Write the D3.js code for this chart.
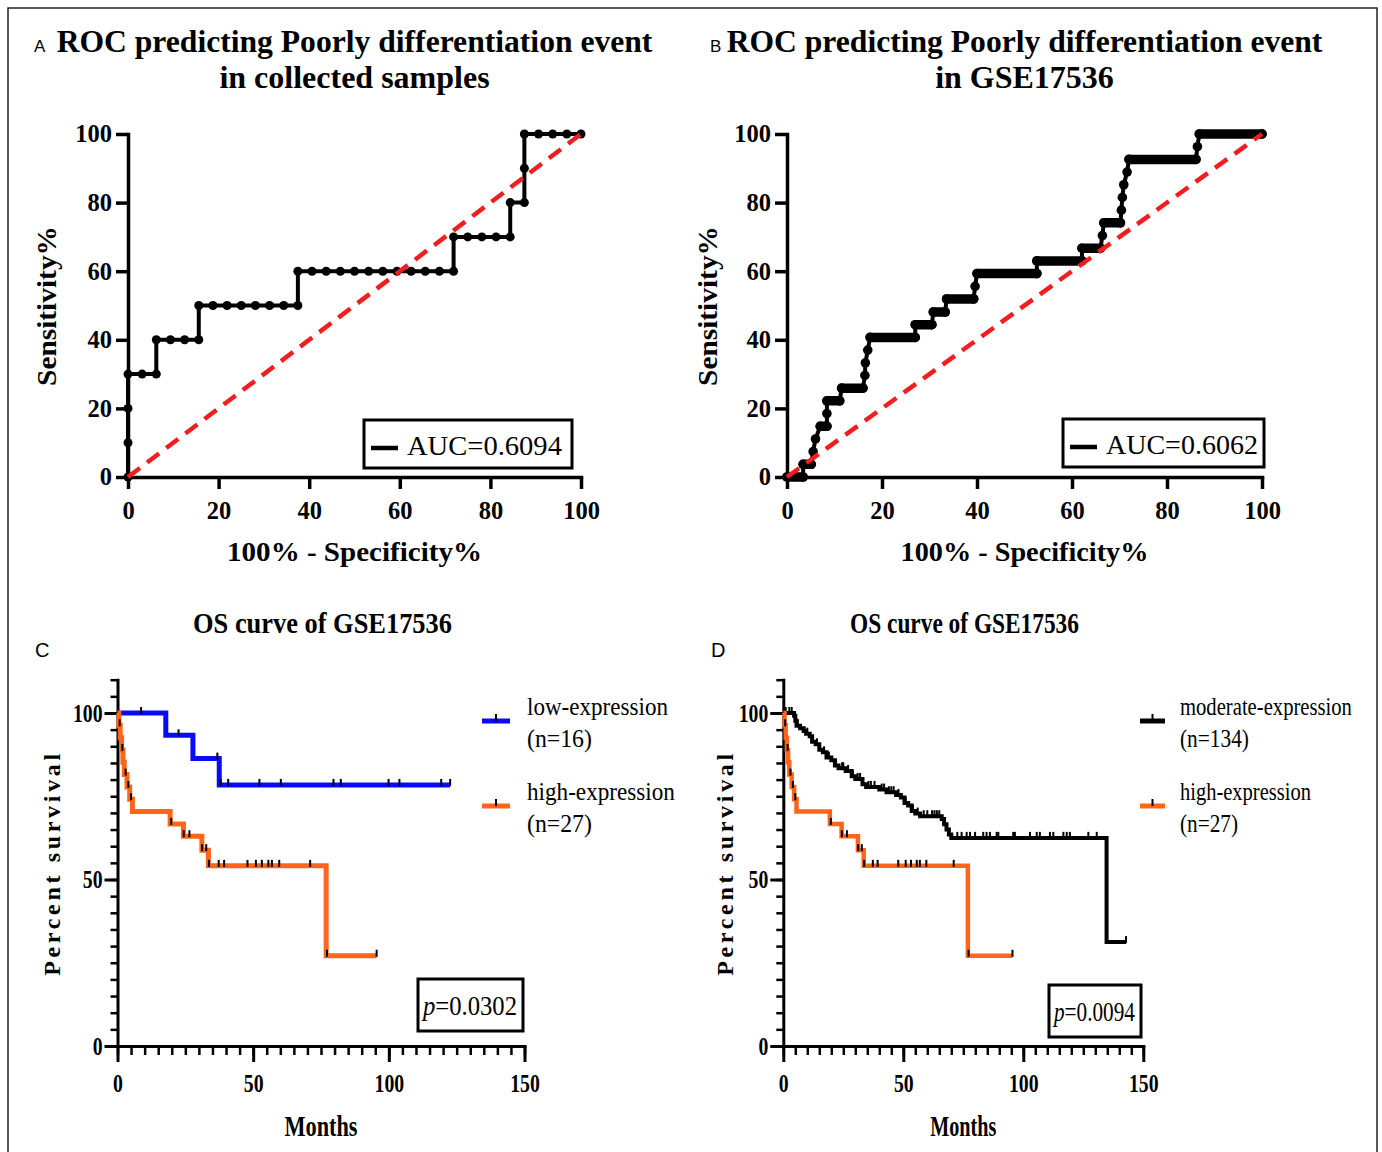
<!DOCTYPE html>
<html>
<head>
<meta charset="utf-8">
<script src="https://cdn.jsdelivr.net/npm/d3@7"></script>
<style>
body { margin: 0; background: #fff; }
svg { display: block; }
</style>
</head>
<body>
<svg width="1382" height="1152"></svg>
<script>
// ---- data ----
// ROC A (collected samples): 100% - specificity, sensitivity
var rocA_fpr = [0,0,0,0,3.125,6.25,6.25,9.375,12.5,15.625,15.625,18.75,21.875,25,28.125,31.25,34.375,37.5,
                37.5,40.625,43.75,46.875,50,53.125,56.25,59.375,62.5,65.625,68.75,71.875,
                71.875,75,78.125,81.25,84.375,84.375,87.5,87.5,87.5,90.625,93.75,96.875,100];
var rocA_tpr = [0,10,20,30,30,30,40,40,40,40,50,50,50,50,50,50,50,50,
                60,60,60,60,60,60,60,60,60,60,60,60,
                70,70,70,70,70,80,80,90,100,100,100,100,100];
// ROC B (GSE17536)
var rocB_fpr = [0,3.4,3.4,5.1,5.5,6.0,7.0,8.4,8.4,8.4,11.1,11.5,16.0,16.4,16.5,17.0,17.5,27.0,27.0,30.5,30.8,
                33.3,33.6,39.3,39.6,40.0,52.6,52.6,62.1,62.1,66.0,66.4,66.7,70.2,70.4,70.6,70.9,71.6,72.0,86.1,86.4,86.8,100];
var rocB_tpr = [0,0,3.7,3.7,7.4,11.1,14.8,14.8,18.5,22.2,22.2,25.9,25.9,29.6,33.3,37.0,40.7,40.7,44.4,44.4,48.1,
                48.1,51.9,51.9,55.6,59.3,59.3,63.0,63.0,66.7,66.7,70.4,74.1,74.1,77.8,81.5,85.2,88.9,92.6,92.6,96.3,100,100];
var rocTicks = [0,20,40,60,80,100];
var aucA = "AUC=0.6094", aucB = "AUC=0.6062";

// Kaplan-Meier, months / percent survival
var low_time = [0,17.8,27.8,37.5,122.6];
var low_surv = [100,93.3,86.3,78.4,78.4];
var low_cens = [8.7,22.5,36.8,38.0,40.8,52.3,60.2,79.6,82.3,99.9,103.9,119.3,122.6];

var high_time = [0,0.5,1.0,1.5,2.0,2.5,3.5,4.5,5.5,19.4,24.3,31.1,33.5,76.9,95.5];
var high_surv = [100,96.3,92.6,88.9,85.2,81.5,77.8,74.1,70.4,66.7,63.0,58.8,54.1,27.1,27.1];
var high_cens = [0.8,1.8,3.0,4.0,5.0,19.8,24.4,26.5,31.2,32.7,33.7,37.3,39.3,47.9,51.0,53.2,55.6,56.9,59.6,71.0,77.2,95.5];

var mod_time = [0,4.5,5.0,5.5,7,8.5,9.5,11,12,13.5,15,16.5,18,20,21.5,23,26,28.5,30,33,34.5,40,43,47,49,
                50.5,52,53.5,55,57,66,67,68,69,70,134.7,142.8];
var mod_surv = [100,99.2,97.7,96.2,95.4,94.6,93.8,93.0,91.4,90.6,89.0,88.2,86.6,85.8,84.2,83.4,82.6,81.0,80.2,78.6,77.8,77.0,76.2,75.4,74.6,
                73.0,72.2,70.6,69.8,69.0,68.2,66.6,65.0,63.5,62.5,31.2,31.2];
var mod_cens = [1.0,2.5,3.5,6,10,14,17,19,22,24.5,25,27,29,31,32,35.5,36.5,38,41,42,44,45,46,48,51,54,56,58.5,60,62,63,64,65,
                72.5,74.3,76.4,77.8,79.9,83.3,84.7,86.1,88.9,89.6,95.8,96.5,102.8,105.6,106.9,111.1,112.5,116.7,118.1,119.4,127.1,130.6,142.8];

var kmTicks = [0,50,100,150];
var kmYTicks = [0,50,100];
var pC = "0.0302", pD = "0.0094";

// ---- drawing ----
var svg = d3.select("svg");
var serif = "'Liberation Serif','Times New Roman',Times,serif";
var sans = "'Liberation Sans',Arial,Helvetica,sans-serif";
var blue = "#0a0afa", orange = "#fd6619", red = "#f01e1e";

// frame round the whole figure
svg.append("rect").attr("x", 8).attr("y", 8).attr("width", 1369).attr("height", 1170)
  .attr("fill", "none").attr("stroke", "#222").attr("stroke-width", 1.5);

// text helper: optional squeeze to a target width
function putText(parent, str, x, y, o) {
  var t = parent.append("text").text(str)
    .attr("font-family", o.family || serif)
    .attr("font-size", o.size)
    .attr("font-weight", o.weight || "normal")
    .attr("font-style", o.italic ? "italic" : "normal")
    .attr("text-anchor", o.anchor || "start")
    .attr("fill", "#000");
  var k = 1;
  var w = t.node().getComputedTextLength();
  if (o.spacing && o.width) {
    t.attr("letter-spacing", (o.width - w) / (str.length - 1));
  } else if (o.width) {
    k = o.width / w;
  }
  t.attr("transform", "translate(" + x + "," + y + ")" + (o.rotate ? " rotate(" + o.rotate + ")" : "") + " scale(" + k + ",1)");
  return t;
}

function styleAxis(ax, sw, fs, k) {
  ax.select(".domain").attr("stroke-width", sw).attr("stroke-linecap", "square");
  ax.selectAll(".tick line").attr("stroke-width", sw);
  ax.selectAll(".tick text")
    .attr("font-family", serif).attr("font-size", fs).attr("font-weight", "bold").attr("fill", "#000")
    .each(function() {
      if (k === 1) return;
      var t = d3.select(this), x0 = +t.attr("x") || 0;
      t.attr("x", x0 / k).attr("transform", "scale(" + k + ",1)");
    });
}

function rocPanel(o) {
  var x = d3.scaleLinear().domain([0, 100]).range(o.xr);
  var y = d3.scaleLinear().domain([0, 100]).range([477, 134]);
  var g = svg.append("g");
  var pts = o.fpr.map(function(f, i) { return [f, o.tpr[i]]; });

  var gx = g.append("g").attr("transform", "translate(0," + y(0) + ")")
    .call(d3.axisBottom(x).tickValues(rocTicks).tickSize(12).tickSizeOuter(0).tickPadding(13));
  styleAxis(gx, 3.5, 24.5, 1);
  var gy = g.append("g").attr("transform", "translate(" + x(0) + ",0)")
    .call(d3.axisLeft(y).tickValues(rocTicks).tickSize(12).tickSizeOuter(0).tickPadding(4));
  styleAxis(gy, 3.5, 24.5, 1);

  var line = d3.line().x(function(d) { return x(d[0]); }).y(function(d) { return y(d[1]); });
  g.append("path").datum(pts).attr("d", line)
    .attr("fill", "none").attr("stroke", "#000").attr("stroke-width", 4).attr("stroke-linejoin", "round");

  // many tied points on the flat runs merge into a thick bar
  if (o.dense) {
    for (var i = 0; i < pts.length - 1; i++) {
      if (pts[i][1] === pts[i + 1][1] && pts[i][0] !== pts[i + 1][0]) {
        g.append("line").attr("x1", x(pts[i][0])).attr("x2", x(pts[i + 1][0]))
          .attr("y1", y(pts[i][1])).attr("y2", y(pts[i][1]))
          .attr("stroke", "#000").attr("stroke-width", 9.5).attr("stroke-linecap", "round");
      }
    }
  }
  g.selectAll("circle.pt").data(pts).join("circle").attr("class", "pt")
    .attr("cx", function(d) { return x(d[0]); }).attr("cy", function(d) { return y(d[1]); })
    .attr("r", o.dense ? 4.8 : 4.5).attr("fill", "#000");

  // chance line
  g.append("line").attr("x1", x(0)).attr("y1", y(0)).attr("x2", x(100)).attr("y2", y(100))
    .attr("stroke", red).attr("stroke-width", 4.5).attr("stroke-dasharray", "15,9");

  // AUC legend box
  var lb = o.legend;
  g.append("rect").attr("x", lb[0]).attr("y", lb[1]).attr("width", lb[2]).attr("height", lb[3])
    .attr("fill", "#fff").attr("stroke", "#000").attr("stroke-width", 3);
  g.append("line").attr("x1", lb[0] + 7).attr("x2", lb[0] + 34).attr("y1", lb[1] + 28).attr("y2", lb[1] + 28)
    .attr("stroke", "#000").attr("stroke-width", 4.5);
  putText(g, o.auc, lb[0] + 43, lb[1] + 35, { size: 27, width: o.aucW });

  // titles and axis labels
  var cx = (o.xr[0] + o.xr[1]) / 2;
  putText(g, o.letter, o.letterX, 52, { family: sans, size: 17 });
  putText(g, "ROC predicting Poorly differentiation event", cx, 52, { size: 32, weight: "bold", anchor: "middle", width: 596 });
  putText(g, o.title2, cx, 88, { size: 32, weight: "bold", anchor: "middle" });
  putText(g, "Sensitivity%", o.ylabX, 306, { size: 27, weight: "bold", anchor: "middle", rotate: -90, width: 160 });
  putText(g, "100% - Specificity%", cx, 561, { size: 27, weight: "bold", anchor: "middle", width: o.xlabW });
}

function survAt(time, surv, t) {
  var i = d3.bisectRight(time, t) - 1;
  return surv[Math.max(0, i)];
}

function kmPanel(o) {
  var x = d3.scaleLinear().domain([0, 150]).range(o.xr);
  var y = d3.scaleLinear().domain([0, 110]).range([1046, 679.7]);
  var g = svg.append("g");

  // minor ticks every 5
  g.append("g").attr("transform", "translate(0," + y(0) + ")")
    .call(d3.axisBottom(x).tickValues(d3.range(0, 151, 5)).tickSize(9).tickFormat(""))
    .call(function(a) { a.select(".domain").remove(); a.selectAll("line").attr("stroke-width", 2.5); });
  g.append("g").attr("transform", "translate(" + x(0) + ",0)")
    .call(d3.axisLeft(y).tickValues(d3.range(0, 111, 5)).tickSize(7).tickFormat(""))
    .call(function(a) { a.select(".domain").remove(); a.selectAll("line").attr("stroke-width", 2.5); });

  var gx = g.append("g").attr("transform", "translate(0," + y(0) + ")")
    .call(d3.axisBottom(x).tickValues(kmTicks).tickSize(16).tickSizeOuter(0).tickPadding(12));
  styleAxis(gx, 3, 26, 0.76);
  var gy = g.append("g").attr("transform", "translate(" + x(0) + ",0)")
    .call(d3.axisLeft(y).tickValues(kmYTicks).tickSize(13).tickSizeOuter(0).tickPadding(2));
  styleAxis(gy, 3, 26, 0.76);

  var step = d3.line().curve(d3.curveStepAfter)
    .x(function(d) { return x(d[0]); }).y(function(d) { return y(d[1]); });

  o.series.forEach(function(s) {
    var pts = s.time.map(function(t, i) { return [t, s.surv[i]]; });
    g.append("path").datum(pts).attr("d", step)
      .attr("fill", "none").attr("stroke", s.color).attr("stroke-width", s.sw);
    g.selectAll(null).data(s.cens).join("line")
      .attr("x1", function(d) { return x(d); }).attr("x2", function(d) { return x(d); })
      .attr("y1", function(d) { return y(survAt(s.time, s.surv, d)) - 6; })
      .attr("y2", function(d) { return y(survAt(s.time, s.surv, d)) + 1; })
      .attr("stroke", "#000").attr("stroke-width", 2);

    // legend entry
    var lx = o.legX, ly = s.legY;
    g.append("line").attr("x1", lx).attr("x2", lx + o.legLen).attr("y1", ly).attr("y2", ly)
      .attr("stroke", s.color).attr("stroke-width", 5);
    g.append("line").attr("x1", lx + o.legLen / 2).attr("x2", lx + o.legLen / 2).attr("y1", ly - 7).attr("y2", ly)
      .attr("stroke", "#000").attr("stroke-width", 2);
    putText(g, s.name, o.legTextX, ly - 6, { size: 26, width: s.nameW });
    putText(g, s.n, o.legTextX, ly + 26, { size: 26, width: s.nW });
  });

  // p value box
  var pb = o.pbox;
  g.append("rect").attr("x", pb[0]).attr("y", pb[1]).attr("width", pb[2]).attr("height", pb[3])
    .attr("fill", "#fff").attr("stroke", "#000").attr("stroke-width", 3);
  var pt = g.append("text").attr("font-family", serif).attr("font-size", 28).attr("fill", "#000");
  pt.append("tspan").attr("font-style", "italic").text("p");
  pt.append("tspan").text("=" + o.p);
  var pk = (pb[2] - 11) / pt.node().getComputedTextLength();
  pt.attr("transform", "translate(" + (pb[0] + 5) + "," + (pb[1] + 36) + ") scale(" + pk + ",1)");

  var cx = (o.xr[0] + o.xr[1]) / 2;
  putText(g, o.letter, o.letterX, 657, { family: sans, size: 20 });
  putText(g, "OS curve of GSE17536", o.titleX, 633, { size: 30, weight: "bold", anchor: "middle", width: o.titleW });
  putText(g, "Percent survival", o.ylabX, 863, { size: 24, weight: "bold", anchor: "middle", rotate: -90, width: 222, spacing: true });
  putText(g, "Months", cx, 1136, { size: 29, weight: "bold", anchor: "middle", width: o.monthsW });
}

rocPanel({ xr: [128, 581], fpr: rocA_fpr, tpr: rocA_tpr, dense: false, legend: [364, 420, 208, 48],
  auc: aucA, aucW: 155, letter: "A", letterX: 34, title2: "in collected samples", ylabX: 56, xlabW: 255 });
rocPanel({ xr: [787, 1262], fpr: rocB_fpr, tpr: rocB_tpr, dense: true, legend: [1063, 419, 201, 48],
  auc: aucB, aucW: 152, letter: "B", letterX: 710, title2: "in GSE17536", ylabX: 717, xlabW: 248 });

kmPanel({ xr: [117.5, 524.5], letter: "C", letterX: 35, titleX: 322.5, titleW: 259, ylabX: 60, monthsW: 73,
  legX: 482, legLen: 28, legTextX: 527, pbox: [418, 979, 105, 52], p: pC,
  series: [
    { time: low_time, surv: low_surv, cens: low_cens, color: blue, sw: 5, legY: 721,
      name: "low-expression", nameW: 141, n: "(n=16)", nW: 65 },
    { time: high_time, surv: high_surv, cens: high_cens, color: orange, sw: 5, legY: 806,
      name: "high-expression", nameW: 148, n: "(n=27)", nW: 65 }
  ] });

kmPanel({ xr: [783.3, 1143.3], letter: "D", letterX: 711, titleX: 964.5, titleW: 229, ylabX: 733, monthsW: 66,
  legX: 1140, legLen: 25, legTextX: 1180, pbox: [1049, 985, 92, 52], p: pD,
  series: [
    { time: mod_time, surv: mod_surv, cens: mod_cens, color: "#000", sw: 4, legY: 721,
      name: "moderate-expression", nameW: 172, n: "(n=134)", nW: 69 },
    { time: high_time, surv: high_surv, cens: high_cens, color: orange, sw: 4.5, legY: 806,
      name: "high-expression", nameW: 131, n: "(n=27)", nW: 58 }
  ] });
</script>
</body>
</html>
